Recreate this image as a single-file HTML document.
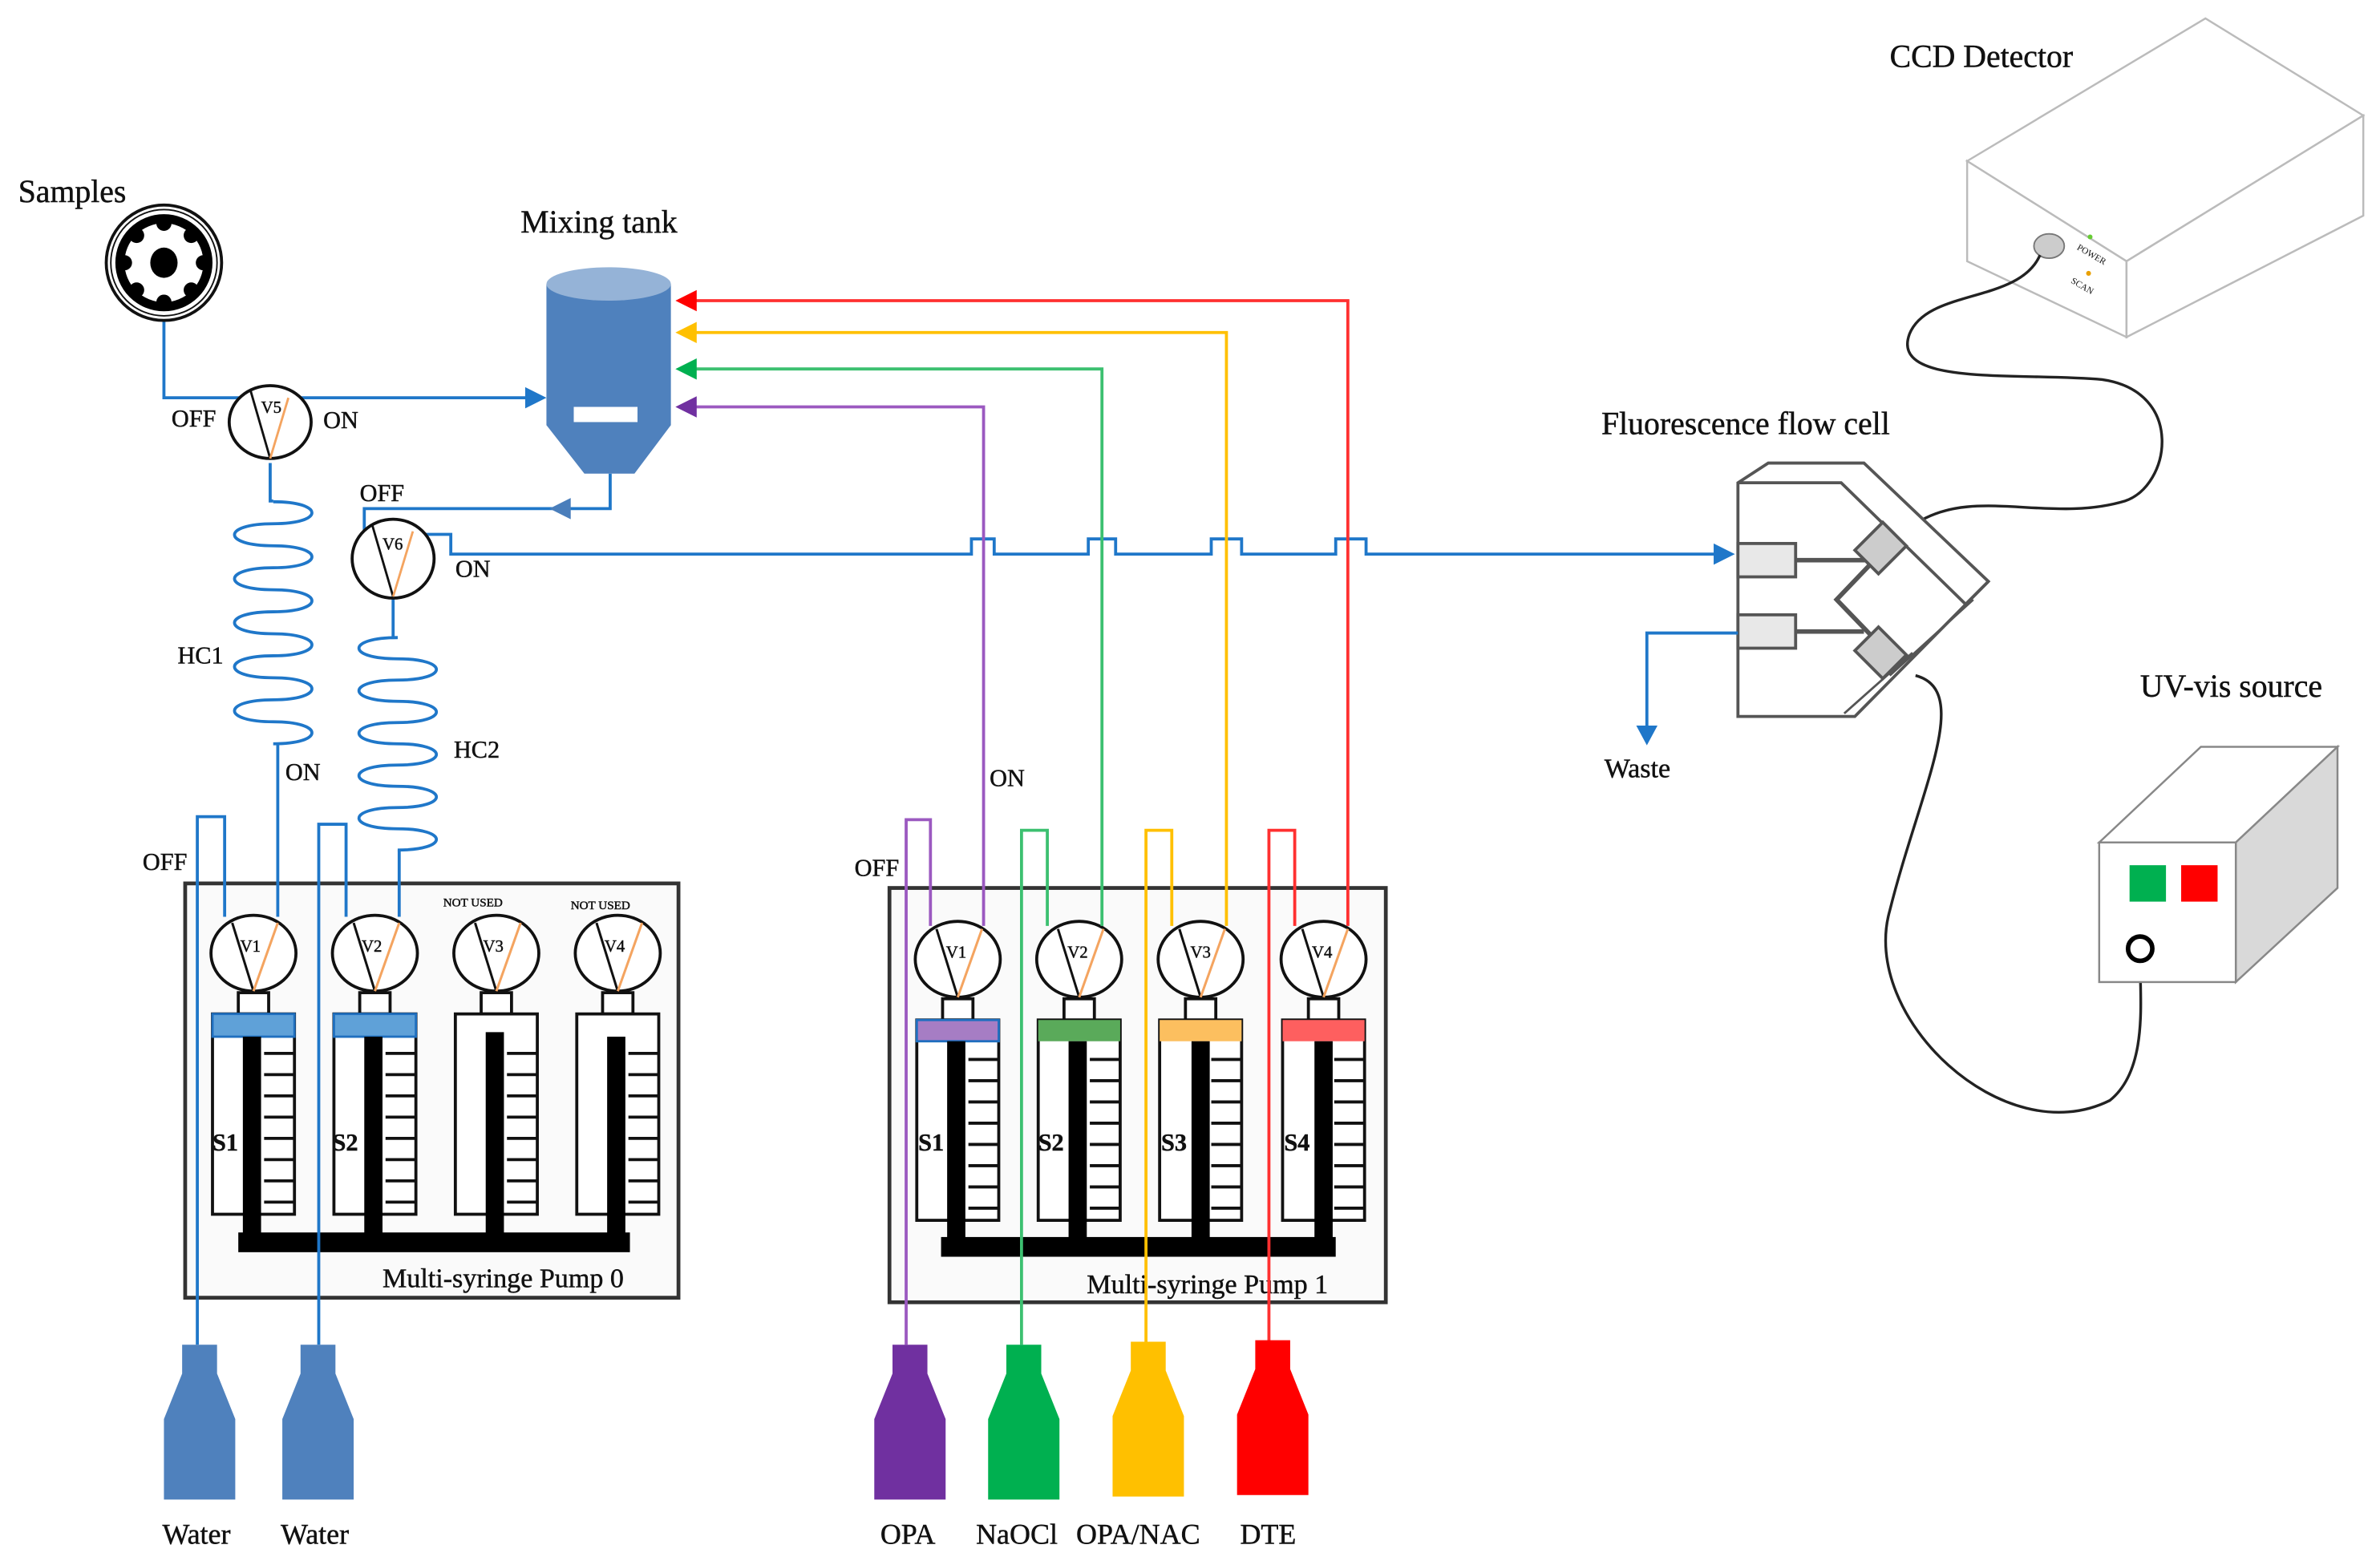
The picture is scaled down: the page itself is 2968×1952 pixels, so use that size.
<!DOCTYPE html>
<html><head><meta charset="utf-8"><style>
html,body{margin:0;padding:0;background:#fff;}
svg{display:block;}
text{font-family:"Liberation Serif",serif;fill:#111;stroke:#111;stroke-width:0.25;}
</style></head><body>
<svg width="2968" height="1952" viewBox="0 0 1568 1031" xmlns="http://www.w3.org/2000/svg">
<defs>
<g id="syr">
  <rect x="17" y="-14" width="20" height="14" fill="#fff" stroke="#111" stroke-width="2"/>
  <rect x="0" y="0" width="54" height="132" fill="#fff" stroke="#111" stroke-width="2"/>
  <g stroke="#111" stroke-width="2">
    <line x1="34" y1="26" x2="54" y2="26"/><line x1="34" y1="40" x2="54" y2="40"/>
    <line x1="34" y1="54" x2="54" y2="54"/><line x1="34" y1="68" x2="54" y2="68"/>
    <line x1="34" y1="82" x2="54" y2="82"/><line x1="34" y1="96" x2="54" y2="96"/>
    <line x1="34" y1="110" x2="54" y2="110"/><line x1="34" y1="124" x2="54" y2="124"/>
  </g>
  <ellipse cx="27" cy="-40" rx="28" ry="25" fill="#fff" stroke="#111" stroke-width="2"/>
  <line x1="27" y1="-15" x2="13" y2="-60" stroke="#111" stroke-width="1.6"/>
  <line x1="27" y1="-15" x2="43" y2="-60" stroke="#f4a460" stroke-width="1.6"/>
</g>
</defs>
<rect width="1568" height="1031" fill="#fff"/>

<rect x="122" y="582" width="325" height="273" fill="#fafafa" stroke="#333" stroke-width="2.5"/>
<rect x="586" y="585" width="327" height="273" fill="#fafafa" stroke="#333" stroke-width="2.5"/>

<g transform="translate(140,668)"><use href="#syr"/></g>
<g transform="translate(220,668)"><use href="#syr"/></g>
<g transform="translate(300,668)"><use href="#syr"/></g>
<g transform="translate(380,668)"><use href="#syr"/></g>
<rect x="140" y="668" width="54" height="15" fill="#5fa1d8" stroke="#1f6fbf" stroke-width="1.5"/>
<rect x="220" y="668" width="54" height="15" fill="#5fa1d8" stroke="#1f6fbf" stroke-width="1.5"/>
<rect x="160" y="683" width="12" height="135" fill="#000"/>
<rect x="240" y="683" width="12" height="135" fill="#000"/>
<rect x="320" y="680" width="12" height="138" fill="#000"/>
<rect x="400" y="683" width="12" height="135" fill="#000"/>
<rect x="157" y="812" width="258" height="13" fill="#000"/>
<text x="165" y="627" font-size="11" text-anchor="middle">V1</text>
<text x="245" y="627" font-size="11" text-anchor="middle">V2</text>
<text x="325" y="627" font-size="11" text-anchor="middle">V3</text>
<text x="405" y="627" font-size="11" text-anchor="middle">V4</text>
<text x="292" y="597" font-size="8">NOT USED</text>
<text x="376" y="599" font-size="8">NOT USED</text>
<text x="140" y="758" font-size="16" font-weight="bold">S1</text>
<text x="219" y="758" font-size="16" font-weight="bold">S2</text>
<text x="252" y="848" font-size="18">Multi-syringe Pump 0</text>

<g transform="translate(604,672)"><use href="#syr"/></g>
<g transform="translate(684,672)"><use href="#syr"/></g>
<g transform="translate(764,672)"><use href="#syr"/></g>
<g transform="translate(845,672)"><use href="#syr"/></g>
<rect x="604" y="672" width="54" height="14" fill="#a67dc4" stroke="#1f6fbf" stroke-width="1.5"/>
<rect x="684" y="672" width="54" height="14" fill="#5aaa5a"/>
<rect x="764" y="672" width="54" height="14" fill="#fcbf5f"/>
<rect x="845" y="672" width="54" height="14" fill="#fe5f5f"/>
<rect x="624" y="686" width="12" height="135" fill="#000"/>
<rect x="704" y="686" width="12" height="135" fill="#000"/>
<rect x="785" y="686" width="12" height="135" fill="#000"/>
<rect x="866" y="686" width="12" height="135" fill="#000"/>
<rect x="620" y="815" width="260" height="13" fill="#000"/>
<text x="630" y="631" font-size="11" text-anchor="middle">V1</text>
<text x="710" y="631" font-size="11" text-anchor="middle">V2</text>
<text x="791" y="631" font-size="11" text-anchor="middle">V3</text>
<text x="871" y="631" font-size="11" text-anchor="middle">V4</text>
<text x="605" y="758" font-size="16" font-weight="bold">S1</text>
<text x="684" y="758" font-size="16" font-weight="bold">S2</text>
<text x="765" y="758" font-size="16" font-weight="bold">S3</text>
<text x="846" y="758" font-size="16" font-weight="bold">S4</text>
<text x="716" y="852" font-size="18">Multi-syringe Pump 1</text>

<g fill="none" stroke="#1f77c9" stroke-width="2">
  <polyline points="130,886 130,538 148,538 148,604"/>
  <polyline points="183,604 183,490"/>
  <polyline points="210,886 210,543 228,543 228,604"/>
  <polyline points="263,604 263,560"/>
  <path d="M180,490 c34,0 34,-14.5 0,-14.5 c-34,0 -34,-14.5 0,-14.5 c34,0 34,-14.5 0,-14.5 c-34,0 -34,-14.5 0,-14.5 c34,0 34,-14.5 0,-14.5 c-34,0 -34,-14.5 0,-14.5 c34,0 34,-14.5 0,-14.5 c-34,0 -34,-14.5 0,-14.5 c34,0 34,-14.5 0,-14.5 c-34,0 -34,-14.5 0,-14.5 c34,0 34,-14.5 0,-14.5"/>
  <polyline points="180,330 178,330 178,305"/>
  <path d="M262,560 c34,0 34,-14 0,-14 c-34,0 -34,-14 0,-14 c34,0 34,-14 0,-14 c-34,0 -34,-14 0,-14 c34,0 34,-14 0,-14 c-34,0 -34,-14 0,-14 c34,0 34,-14 0,-14 c-34,0 -34,-14 0,-14 c34,0 34,-14 0,-14 c-34,0 -34,-14 0,-14"/>
  <polyline points="262,420 259,420 259,394"/>
  <polyline points="108,212 108,262 160,262"/>
  <line x1="196" y1="262" x2="350" y2="262"/>
  <polyline points="402,312 402,335 372,335"/>
  <polyline points="372,335 240,335 240,355"/>
  <path d="M280,352 H297 V365 H640 V355 H655 V365 H717 V355 H735 V365 H798 V355 H818 V365 H880 V355 H900 V365 H1132"/>
</g>
<polygon points="360,262 346,255 346,269" fill="#1f77c9"/>
<polygon points="362,335 376,328 376,342" fill="#4a7ebb"/>
<polygon points="1143,365 1129,358 1129,372" fill="#1f77c9"/>

<g fill="none" stroke-width="2">
  <polyline stroke="#9b59c0" points="597,886 597,540 613,540 613,610"/>
  <polyline stroke="#9b59c0" points="648,610 648,268 455,268"/>
  <polyline stroke="#3cc070" points="673,886 673,547 690,547 690,610"/>
  <polyline stroke="#3cc070" points="726,610 726,243 455,243"/>
  <polyline stroke="#ffc000" points="755,886 755,547 772,547 772,610"/>
  <polyline stroke="#ffc000" points="808,610 808,219 455,219"/>
  <polyline stroke="#ff3030" points="836,886 836,547 853,547 853,610"/>
  <polyline stroke="#ff3030" points="888,610 888,198 455,198"/>
</g>
<polygon points="445,268 459,261 459,275" fill="#7030a0"/>
<polygon points="445,243 459,236 459,250" fill="#00b050"/>
<polygon points="445,219 459,212 459,226" fill="#ffc000"/>
<polygon points="445,198 459,191 459,205" fill="#ff0000"/>

<!-- Samples wheel -->
<circle cx="108" cy="173" r="38" fill="#fff" stroke="#111" stroke-width="2"/>
<circle cx="108" cy="173" r="35" fill="#fff" stroke="#111" stroke-width="1"/>
<circle cx="108" cy="173" r="32" fill="#000"/>
<circle cx="108" cy="173" r="26" fill="#fff"/>
<g fill="#000">
<circle cx="108" cy="147" r="5"/><circle cx="108" cy="199" r="5"/>
<circle cx="82" cy="173" r="5"/><circle cx="134" cy="173" r="5"/>
<circle cx="126" cy="155" r="5"/><circle cx="90" cy="155" r="5"/>
<circle cx="126" cy="191" r="5"/><circle cx="90" cy="191" r="5"/>
</g>
<ellipse cx="108" cy="173" rx="9" ry="10" fill="#000"/>
<text x="12" y="133" font-size="21">Samples</text>

<ellipse cx="178" cy="278" rx="27" ry="24" fill="#fff" stroke="#111" stroke-width="2"/>
<line x1="178" y1="302" x2="165" y2="257" stroke="#111" stroke-width="1.5"/>
<line x1="178" y1="302" x2="190" y2="262" stroke="#f4a460" stroke-width="1.5"/>
<text x="172" y="272" font-size="11">V5</text>
<ellipse cx="259" cy="368" rx="27" ry="26" fill="#fff" stroke="#111" stroke-width="2"/>
<line x1="259" y1="393" x2="245" y2="345" stroke="#111" stroke-width="1.5"/>
<line x1="259" y1="393" x2="272" y2="350" stroke="#f4a460" stroke-width="1.5"/>
<text x="252" y="362" font-size="11">V6</text>
<g font-size="16">
<text x="113" y="281">OFF</text><text x="213" y="282">ON</text>
<text x="237" y="330">OFF</text><text x="300" y="380">ON</text>
<text x="117" y="437">HC1</text><text x="299" y="499">HC2</text>
<text x="188" y="514">ON</text><text x="94" y="573">OFF</text>
<text x="652" y="518">ON</text><text x="563" y="577">OFF</text>
</g>

<path d="M360,187 H442 V280 L418,312 H385 L360,280 Z" fill="#4f81bd"/>
<ellipse cx="401" cy="187" rx="41" ry="11" fill="#95b3d7"/>
<rect x="378" y="268" width="42" height="10" fill="#fff"/>
<text x="343" y="153" font-size="21">Mixing tank</text>

<path d="M120,886 H143 V905 L155,935 V988 H108 V935 L120,905 Z" fill="#4f81bd"/>
<path d="M198,886 H221 V905 L233,935 V988 H186 V935 L198,905 Z" fill="#4f81bd"/>
<path d="M588,886 H611 V905 L623,935 V988 H576 V935 L588,905 Z" fill="#7030a0"/>
<path d="M663,886 H686 V905 L698,935 V988 H651 V935 L663,905 Z" fill="#00b050"/>
<path d="M745,884 H768 V903 L780,933 V986 H733 V933 L745,903 Z" fill="#ffc000"/>
<path d="M827,883 H850 V902 L862,932 V985 H815 V932 L827,902 Z" fill="#ff0000"/>
<g font-size="19">
<text x="107" y="1017">Water</text><text x="185" y="1017">Water</text>
<text x="580" y="1017">OPA</text><text x="643" y="1017">NaOCl</text>
<text x="709" y="1017">OPA/NAC</text><text x="817" y="1017">DTE</text>
</g>

<g fill="#fff" stroke="#bbb" stroke-width="1.3">
<polygon points="1296,106 1453,12 1557,76 1401,172"/>
<polygon points="1296,106 1401,172 1401,222 1296,172"/>
<polygon points="1401,172 1557,76 1557,142 1401,222"/>
</g>
<ellipse cx="1350" cy="162" rx="10" ry="8" fill="#ccc" stroke="#777" stroke-width="1"/>
<circle cx="1377" cy="156" r="1.6" fill="#6c3"/>
<circle cx="1376" cy="180" r="1.6" fill="#e9a000"/>
<text x="1368" y="164" font-size="6" fill="#777" style="stroke:none" transform="rotate(30 1368 164)">POWER</text>
<text x="1364" y="186" font-size="6" fill="#777" style="stroke:none" transform="rotate(30 1364 186)">SCAN</text>
<text x="1245" y="44" font-size="21">CCD Detector</text>

<g fill="none" stroke="#222" stroke-width="1.8">
<path d="M1344,168 C1330,200 1270,190 1258,220 C1245,255 1330,245 1385,250 C1440,258 1430,320 1400,330 C1350,345 1300,320 1262,345"/>
<path d="M1262,445 C1300,455 1265,520 1245,600 C1225,670 1320,760 1390,725 C1415,705 1410,660 1410,635"/>
</g>

<g fill="#fff" stroke="#555" stroke-width="2">
<path d="M1145,318 L1165,305 L1228,305 L1310,383 L1222,472 L1145,472 Z"/>
<polyline points="1145,318 1213,318 1295,398" fill="none"/>
<polyline points="1295,398 1310,383" fill="none"/>
<rect x="1145" y="358" width="38" height="22" fill="#e8e8e8"/>
<rect x="1145" y="405" width="38" height="22" fill="#e8e8e8"/>
<line x1="1183" y1="369" x2="1230" y2="369" stroke-width="3"/>
<line x1="1183" y1="416" x2="1228" y2="416" stroke-width="3"/>
<polyline points="1232,372 1210,395 1237,423" fill="none" stroke-width="3"/>
<rect x="1228" y="348" width="22" height="26" fill="#ccc" transform="rotate(45 1239 361)"/>
<rect x="1228" y="417" width="22" height="26" fill="#ccc" transform="rotate(-45 1239 430)"/>
<line x1="1245" y1="445" x2="1300" y2="395" stroke-width="1.5"/>
<line x1="1215" y1="470" x2="1260" y2="430" stroke-width="1.5"/>
</g>
<polyline points="1145,417 1085,417 1085,480" fill="none" stroke="#1f77c9" stroke-width="2"/>
<polygon points="1085,491 1078,478 1092,478" fill="#1f77c9"/>
<text x="1057" y="512" font-size="18">Waste</text>
<text x="1055" y="286" font-size="21">Fluorescence flow cell</text>

<polygon points="1383,555 1450,492 1540,492 1473,555" fill="#fff" stroke="#888" stroke-width="1.3"/>
<polygon points="1473,555 1540,492 1540,585 1473,647" fill="#d9d9d9" stroke="#888" stroke-width="1.3"/>
<rect x="1383" y="555" width="90" height="92" fill="#fff" stroke="#888" stroke-width="1.3"/>
<rect x="1403" y="570" width="24" height="24" fill="#00b050"/>
<rect x="1437" y="570" width="24" height="24" fill="#ff0000"/>
<circle cx="1410" cy="625" r="8" fill="#fff" stroke="#000" stroke-width="3"/>
<text x="1410" y="459" font-size="21">UV-vis source</text>
</svg>
</body></html>
